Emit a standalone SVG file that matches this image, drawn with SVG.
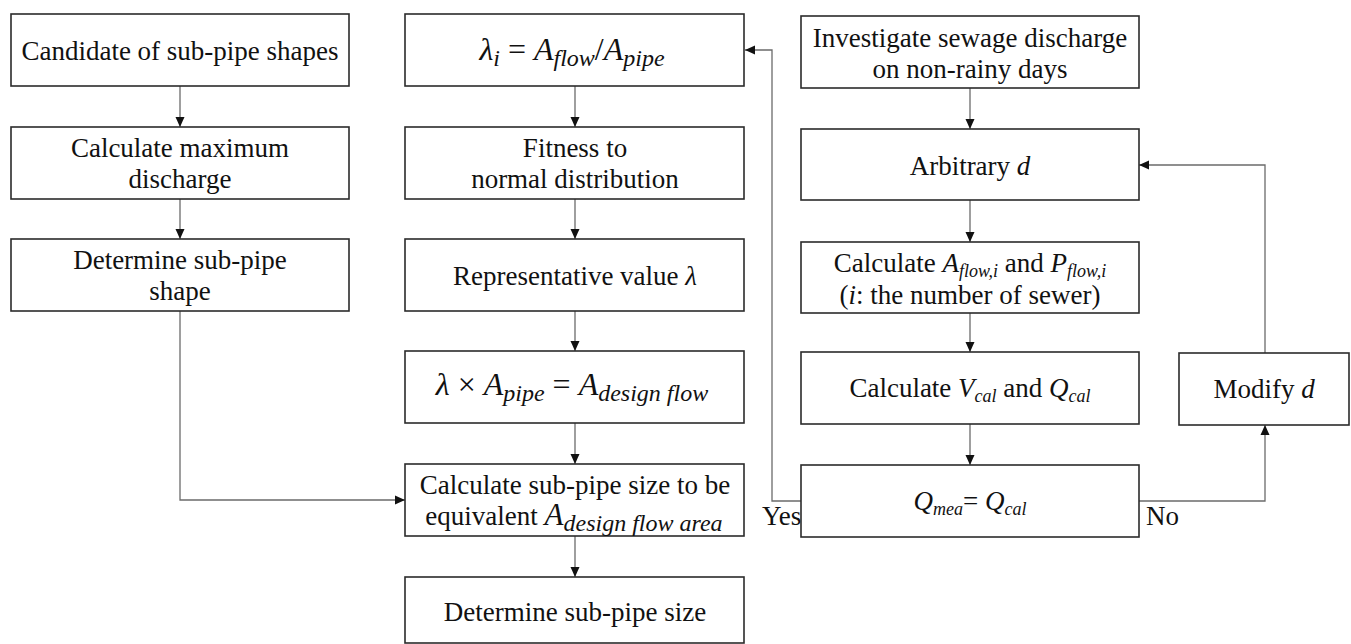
<svg xmlns="http://www.w3.org/2000/svg" width="1351" height="644" viewBox="0 0 1351 644">
<style>
.box{fill:#fff;stroke:#2b2b2b;stroke-width:1.6}
text{font-family:'Liberation Serif','Times New Roman',serif;fill:#111}
.t{font-size:27px;text-anchor:middle}
.m{font-size:32px;text-anchor:middle}
.i{font-style:italic}
.s{font-size:24px;font-style:italic}
.c{fill:none;stroke:#6b6b6b;stroke-width:1.3}
.lbl{font-size:27px}
</style>
<defs>
<marker id="ah" viewBox="0 0 10 10" refX="10" refY="5" markerWidth="10" markerHeight="10" markerUnits="userSpaceOnUse" orient="auto">
<path d="M0,0.5 L10,5 L0,9.5 Z" fill="#111"/>
</marker>
</defs>
<rect width="1351" height="644" fill="#fff"/>

<g id="connectors">
<path class="c" d="M180,86 V127" marker-end="url(#ah)"/>
<path class="c" d="M180,199 V239" marker-end="url(#ah)"/>
<path class="c" d="M180,311 V500 H405" marker-end="url(#ah)"/>
<path class="c" d="M575,86 V127" marker-end="url(#ah)"/>
<path class="c" d="M575,199 V239" marker-end="url(#ah)"/>
<path class="c" d="M575,311 V351" marker-end="url(#ah)"/>
<path class="c" d="M575,423 V464" marker-end="url(#ah)"/>
<path class="c" d="M575,536 V577" marker-end="url(#ah)"/>
<path class="c" d="M970,88 V129" marker-end="url(#ah)"/>
<path class="c" d="M970,200 V242" marker-end="url(#ah)"/>
<path class="c" d="M970,313 V352" marker-end="url(#ah)"/>
<path class="c" d="M970,424 V465" marker-end="url(#ah)"/>
<path class="c" d="M801,501 H772 V50 H745" marker-end="url(#ah)"/>
<path class="c" d="M1139,501 H1265 V425" marker-end="url(#ah)"/>
<path class="c" d="M1265,353 V165 H1139" marker-end="url(#ah)"/>
<text class="lbl" x="762" y="525">Yes</text>
<text class="lbl" x="1146" y="525">No</text>
</g>

<g id="n1"><rect class="box" x="11" y="14" width="338" height="72"/><text class="t" x="180" y="60">Candidate of sub-pipe shapes</text></g>
<g id="n2"><rect class="box" x="11" y="127" width="338" height="72"/><text class="t" x="180" y="157">Calculate maximum</text><text class="t" x="180" y="188">discharge</text></g>
<g id="n3"><rect class="box" x="11" y="239" width="338" height="72"/><text class="t" x="180" y="269">Determine sub-pipe</text><text class="t" x="180" y="300">shape</text></g>

<g id="m1"><rect class="box" x="405" y="14" width="339" height="72"/>
<text class="m" x="572" y="60"><tspan class="i">λ</tspan><tspan class="s" dy="6">i</tspan><tspan dy="-6"> = </tspan><tspan class="i">A</tspan><tspan class="s" dy="6">flow</tspan><tspan dy="-6">/</tspan><tspan class="i">A</tspan><tspan class="s" dy="6">pipe</tspan></text></g>
<g id="m2"><rect class="box" x="405" y="127" width="339" height="72"/><text class="t" x="575" y="157">Fitness to</text><text class="t" x="575" y="188">normal distribution</text></g>
<g id="m3"><rect class="box" x="405" y="239" width="339" height="72"/><text class="t" x="575" y="285">Representative value <tspan class="i">λ</tspan></text></g>
<g id="m4"><rect class="box" x="405" y="351" width="339" height="72"/>
<text class="m" x="572" y="395"><tspan class="i">λ</tspan><tspan> × </tspan><tspan class="i">A</tspan><tspan class="s" dy="6">pipe</tspan><tspan dy="-6"> = </tspan><tspan class="i">A</tspan><tspan class="s" dy="6">design flow</tspan></text></g>
<g id="m5"><rect class="box" x="405" y="464" width="339" height="72"/><text class="t" x="575" y="494">Calculate sub-pipe size to be</text>
<text class="t" x="574" y="525">equivalent <tspan class="i" font-size="31">A</tspan><tspan class="s" dy="6">design flow area</tspan></text></g>
<g id="m6"><rect class="box" x="405" y="577" width="339" height="66"/><text class="t" x="575" y="621">Determine sub-pipe size</text></g>

<g id="r1"><rect class="box" x="801" y="16" width="338" height="72"/><text class="t" x="970" y="47">Investigate sewage discharge</text><text class="t" x="970" y="78">on non-rainy days</text></g>
<g id="r2"><rect class="box" x="801" y="129" width="338" height="71"/><text class="t" x="970" y="175">Arbitrary <tspan class="i">d</tspan></text></g>
<g id="r3"><rect class="box" x="801" y="242" width="338" height="71"/>
<text class="t" x="970" y="272">Calculate <tspan class="i">A</tspan><tspan class="i" font-size="18" dy="5">flow,i</tspan><tspan dy="-5"> and </tspan><tspan class="i">P</tspan><tspan class="i" font-size="18" dy="5">flow,i</tspan></text>
<text class="t" x="970" y="304">(<tspan class="i">i</tspan>: the number of sewer)</text></g>
<g id="r4"><rect class="box" x="801" y="352" width="338" height="72"/>
<text class="t" x="970" y="397">Calculate <tspan class="i">V</tspan><tspan class="i" font-size="18" dy="5">cal</tspan><tspan dy="-5"> and </tspan><tspan class="i">Q</tspan><tspan class="i" font-size="18" dy="5">cal</tspan></text></g>
<g id="r5"><rect class="box" x="801" y="465" width="338" height="72"/>
<text class="t" x="970" y="510"><tspan class="i">Q</tspan><tspan class="i" font-size="18" dy="5">mea</tspan><tspan dy="-5">= </tspan><tspan class="i">Q</tspan><tspan class="i" font-size="18" dy="5">cal</tspan></text></g>
<g id="r6"><rect class="box" x="1179" y="353" width="170" height="72"/><text class="t" x="1264" y="398">Modify <tspan class="i">d</tspan></text></g>
</svg>
